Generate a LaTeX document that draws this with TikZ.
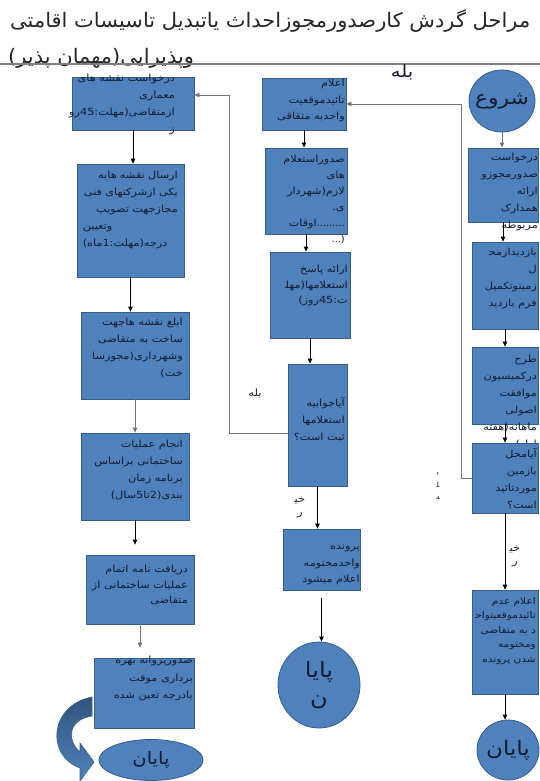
\documentclass[tikz,border=0pt]{standalone}
\usepackage{fontspec}
\newfontfamily\arabicfont[Script=Arabic,FakeStretch=1.15]{DejaVu Sans}
\newfontfamily\titlefont[Script=Arabic,FakeStretch=1.05]{DejaVu Sans}
\newfontfamily\latinfont{DejaVu Sans}
\TeXXeTstate=1
\usetikzlibrary{shapes.geometric,arrows.meta}
\newcommand*\rtl[1]{\beginR#1\endR}
\definecolor{boxfill}{HTML}{4F81BD}
\definecolor{boxline}{HTML}{385D8A}
\definecolor{ink}{HTML}{141B2D}

\begin{document}
\begin{tikzpicture}[x=1pt,y=-1pt,>={Triangle[length=5pt,width=4.5pt]},
    box/.style={draw=boxline,fill=boxfill,line width=0.8pt,inner sep=0pt},
    oval/.style={box,ellipse,inner sep=-10pt,text=ink},
    txt/.style={anchor=north east,align=right,inner sep=0pt,text=ink,font=\arabicfont\fontsize{9.8}{17}\selectfont},
    txtsmall/.style={txt,font=\arabicfont\fontsize{9.2}{14.5}\selectfont},
    lbl/.style={inner sep=0pt,text=ink,font=\arabicfont\fontsize{10}{13}\selectfont},
    conn/.style={line width=0.8pt,draw=black},
    conngray/.style={line width=0.8pt,draw=black!55}]
    \useasboundingbox (0,0) rectangle (540,781);

    % title
    \node[anchor=base west,inner sep=0pt,text=black!85,font=\titlefont\fontsize{20}{24}\selectfont] (title) at (10,28) {\rtl{مراحل گردش کارصدورمجوزاحداث یاتبدیل تاسیسات اقامتی}};
    \node[anchor=base west,inner sep=0pt,text=black!85,font=\titlefont\fontsize{20}{24}\selectfont] (title2) at (8,64) {\rtl{وپذیرایی(مهمان پذیر)}};
    \draw[black!50,line width=1.2pt] (0,64) -- (540,64);

    % right column
    \node[oval,minimum width=66pt,minimum height=62pt,font=\arabicfont\fontsize{19}{22}\selectfont] (start) at (502,101) {شروع};
    \node[box,minimum width=70pt,minimum height=74pt] (req) at (503,185) {};
    \node[txt] (reqtxt) at (538,153) {\rtl{درخواست}\\\rtl{صدورمجوزو}\\\rtl{ارائه}\\\rtl{همدارک}\\\rtl{مربوطه}};
    \node[box,minimum width=66pt,minimum height=87pt] (visit) at (505,285.5) {};
    \node[txt] (visittxt) at (537,248) {\rtl{بازدیدازمح^^^^200d}\\\rtl{ل}\\\rtl{زمینوتکمیل}\\\rtl{فرم بازدید}};
    \node[box,minimum width=66pt,minimum height=77pt] (comm) at (505,385.5) {};
    \node[txt] (commtxt) at (537,355) {\rtl{طرح}\\\rtl{درکمیسیون}\\\rtl{موافقت}\\\rtl{اصولی}\\\rtl{ماهانه(هفته}\\\rtl{اول)}};
    \node[box,minimum width=66pt,minimum height=70pt] (dec) at (505,478) {};
    \node[txt] (dectxt) at (537,448) {\rtl{آیامحل}\\\rtl{بازمین}\\\rtl{موردتائید}\\\rtl{است؟}};
    \node[box,minimum width=66pt,minimum height=104pt] (reject) at (505,642) {};
    \node[txtsmall] (rejecttxt) at (536,597) {\rtl{اعلام عدم}\\\rtl{تائیدموقعیتواح^^^^200d}\\\rtl{د به متقاضی}\\\rtl{ومختومه}\\\rtl{شدن پرونده}};
    \node[oval,minimum width=62pt,minimum height=60pt,font=\arabicfont\fontsize{20}{22}\selectfont] (endR) at (508,750) {پایان};

    \draw[conngray,->] (start.south) -- (start.south |- req.north);
    \draw[conn,->] (req.south) -- (req.south |- visit.north);
    \draw[conn,->] (visit.south) -- (visit.south |- comm.north);
    \draw[conn,->] (comm.south) -- (comm.south |- dec.north);
    \draw[conn,->] (dec.south) -- (dec.south |- reject.north);
    \draw[conn,->] (reject.south) -- (reject.south |- endR.north);
    \node[lbl,align=center] (noR) at (515,557) {\rtl{خی^^^^200d}\\\rtl{ر}};
    \node[lbl,font=\arabicfont\fontsize{17}{19}\selectfont] (yesTop) at (402,72) {بله};
    \node[lbl,align=center,font=\arabicfont\fontsize{7}{12.5}\selectfont] (yesR) at (438,486) {ب^^^^200d\\^^^^200dل^^^^200d\\^^^^200dه};

    % middle column
    \node[box,minimum width=84pt,minimum height=52pt] (appr) at (304,104) {};
    \node[txt,font=\arabicfont\fontsize{9.8}{16.5}\selectfont] (apprtxt) at (345,79) {\rtl{اعلام}\\\rtl{تائیدموقعیت}\\\rtl{واحدبه متقاقی}};
    \node[box,minimum width=82pt,minimum height=86pt] (inq) at (306,191) {};
    \node[txt,font=\arabicfont\fontsize{9.8}{16}\selectfont] (inqtxt) at (345,155) {\rtl{صدوراستعلام}\\\rtl{های}\\\rtl{لازم(شهردار}\\\rtl{ی.}\\\rtl{اوقات}{\latinfont.........}\\{\latinfont...)}};
    \node[box,minimum width=80pt,minimum height=86pt] (resp) at (310,295) {};
    \node[txt,font=\arabicfont\fontsize{9.8}{15.5}\selectfont] (resptxt) at (348,265) {\rtl{ارائه پاسخ}\\\rtl{استعلامها(مهل^^^^200d}\\\rtl{ت:45روز)}};
    \node[box,minimum width=59pt,minimum height=122pt] (check) at (317.5,425) {};
    \node[txt,anchor=east] (checktxt) at (345,420) {\rtl{آیاجوابیه}\\\rtl{استعلامها}\\\rtl{ثبت است؟}};
    \node[box,minimum width=77pt,minimum height=61pt] (close) at (321.5,559.5) {};
    \node[txt,font=\arabicfont\fontsize{9.8}{16.5}\selectfont] (closetxt) at (360,545) {\rtl{پرونده}\\\rtl{واحدمختومه}\\\rtl{اعلام میشود}};
    \node[oval,minimum width=82pt,minimum height=86pt,align=center,font=\arabicfont\fontsize{21}{28}\selectfont] (endM) at (319,685) {پایا\\ن};

    \draw[conngray,->] (dec.west) -- ++(-10,0) |- (appr.east);
    \draw[conn,->] (appr.south) -- (appr.south |- inq.north);
    \draw[conn,->] (inq.south) -- (inq.south |- resp.north);
    \draw[conn,->] (resp.south) -- (resp.south |- check.north);
    \draw[conn,->] (check.south) -- (check.south |- close.north);
    \node[lbl,align=center] (noM) at (300,508) {\rtl{خی^^^^200d}\\\rtl{ر}};
    \draw[conn,->,shorten <=8pt] (close.south) -- (close.south |- endM.north);
    \node[lbl] (yesM) at (255,393) {بله};

    % left column
    \node[box,minimum width=122pt,minimum height=53pt] (plan) at (133,103.5) {};
    \node[txt] (plantxt) at (175,74) {\rtl{درخواست نقشه های}\\\rtl{معماری}\\\rtl{ازمتقاضی(مهلت:45رو}\\\rtl{ز}};
    \node[box,minimum width=107pt,minimum height=113pt] (send) at (130.5,220.5) {};
    \node[txt,text width=95pt,align=left] (sendtxt) at (178,171) {\hspace*{\fill}\rtl{ارسال نقشه هابه}\hspace*{\fill}\\\hspace*{\fill}\rtl{یکی ازشرکتهای فنی}\\\hspace*{\fill}\rtl{مجازجهت تصویب}\\\rtl{وتعیین}\\\rtl{درجه(مهلت:1ماه)}};
    \node[box,minimum width=108pt,minimum height=87pt] (notify) at (135,355.5) {};
    \node[txt] (notifytxt) at (183,318) {\rtl{ابلغ نقشه هاجهت}\\\rtl{ساخت به متقاضی}\\\rtl{وشهرداری(مجوزسا}\\\rtl{خت)}};
    \node[box,minimum width=108pt,minimum height=87pt] (build) at (135,476.5) {};
    \node[txt] (buildtxt) at (183,440) {\rtl{انجام عملیات}\\\rtl{ساختمانی براساس}\\\rtl{برنامه زمان}\\\rtl{بندی(2تا5سال)}};
    \node[box,minimum width=108pt,minimum height=69pt] (receipt) at (140,589.5) {};
    \node[txt,font=\arabicfont\fontsize{9.8}{15.5}\selectfont] (receipttxt) at (188,565) {\rtl{دریافت نامه اتمام}\\\rtl{عملیات ساختمانی از}\\\rtl{متقاضی}};
    \node[box,minimum width=100pt,minimum height=70pt] (permit) at (144,693) {};
    \node[txt,font=\arabicfont\fontsize{9.8}{17.5}\selectfont] (permittxt) at (193,656) {\rtl{صدورپروانه بهره}\\\rtl{برداری موقت}\\\rtl{بادرجه تعین شده}};
    \node[oval,minimum width=104pt,minimum height=41pt,font=\arabicfont\fontsize{17}{20}\selectfont] (endL) at (151,760) {پایان};

    \draw[conngray,->] (check.west) ++(0,8) -- ++(-58,0) |- ([yshift=8.5pt]plan.east);
    \draw[conn,->] (plan.south) -- (plan.south |- send.north);
    \draw[conn,->] (send.south) -- (send.south |- notify.north);
    \draw[conngray,->] (notify.south) -- (notify.south |- build.north);
    \draw[conn,->,shorten >=10pt] (build.south) -- (build.south |- receipt.north);
    \draw[conngray,->,shorten >=10pt] (receipt.south) -- (receipt.south |- permit.north);
    \shade[top color=boxline!90!black,bottom color=boxfill,draw=boxline,line width=0.6pt] (92,697) .. controls (50,705) and (45,755) .. (80,768) -- (80,781) -- (94,762) -- (80,743) -- (80,752) .. controls (68,742) and (66,720) .. (92,716) -- cycle;
\end{tikzpicture}
\end{document}
